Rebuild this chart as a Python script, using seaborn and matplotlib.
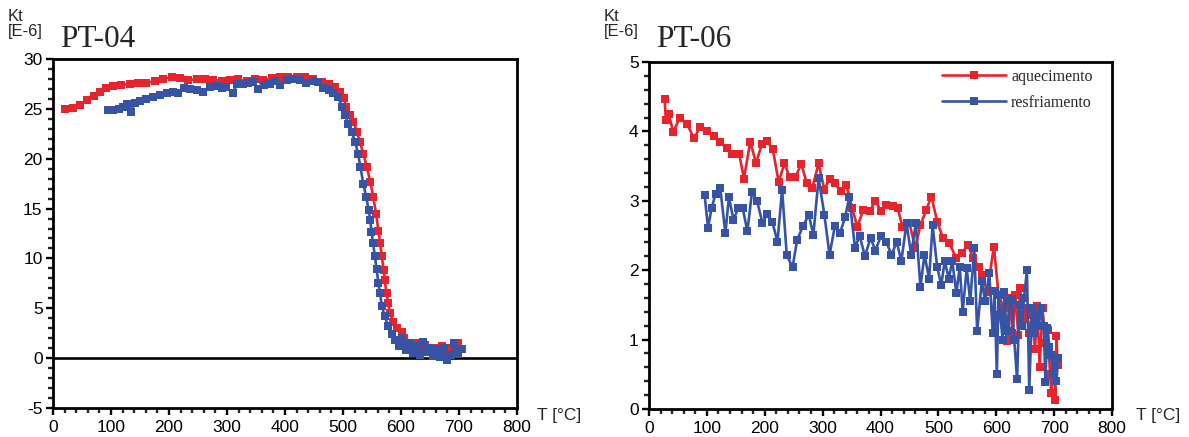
import matplotlib
matplotlib.use("Agg")
import matplotlib.pyplot as plt
from matplotlib.ticker import MultipleLocator
import seaborn as sns
import pandas as pd

# ---------------- data ----------------
# PT-04 heating (aquecimento)
pt04_heat_T = [21, 35, 46, 58, 70, 81, 92, 104, 118, 133, 147, 161, 176, 190, 205, 219, 233, 248,
               262, 276, 291, 305, 319, 334, 348, 362, 377, 391, 406, 420, 434, 449, 463, 475,
               486, 495, 501, 506, 512, 518, 524, 529, 535, 541, 547, 552, 557, 561, 564, 567,
               570, 572, 575, 578, 581, 587, 593, 601, 605, 612, 620, 628, 635, 642, 650, 657,
               664, 671, 678, 685, 692, 699, 705]
pt04_heat_K = [24.95, 25.05, 25.4, 25.9, 26.3, 26.7, 27.05, 27.3, 27.4, 27.5, 27.6, 27.6, 27.8,
               28.0, 28.2, 28.1, 27.9, 27.95, 27.95, 27.9, 27.8, 27.9, 27.95, 27.8, 27.95, 27.9,
               28.05, 28.2, 28.2, 28.2, 28.2, 27.95, 27.7, 27.5, 27.2, 26.7, 26.05, 25.2, 24.4,
               23.7, 22.7, 21.7, 20.5, 19.2, 17.7, 16.2, 14.5, 12.8, 11.5, 10.2, 8.8, 7.8, 6.5,
               5.5, 4.5, 3.6, 3.0, 2.6, 2.0, 1.5, 1.2, 1.5, 1.0, 1.3, 0.8, 1.0, 0.6, 1.2, 0.4,
               1.0, 0.8, 1.5, 0.9]

# PT-04 cooling (resfriamento)
pt04_cool_T = [95, 104, 113, 121, 128, 134, 141, 150, 161, 173, 184, 196, 207, 216, 225, 236, 248,
               259, 271, 282, 291, 299, 310, 317, 328, 337, 345, 354, 363, 374, 383, 391, 403,
               414, 426, 437, 449, 457, 466, 475, 483, 492, 498, 504, 509, 515, 521, 526, 530,
               535, 540, 544, 547, 549, 552, 555, 558, 561, 564, 567, 572, 578, 584, 590, 596,
               602, 608, 614, 620, 626, 632, 638, 644, 650, 656, 662, 668, 674, 680, 686, 692,
               698, 704]
pt04_cool_K = [24.85, 24.9, 25.0, 25.2, 25.5, 24.7, 25.6, 25.8, 26.0, 26.2, 26.4, 26.55, 26.7,
               26.55, 27.05, 26.95, 26.9, 26.7, 27.2, 27.3, 27.05, 27.2, 26.55, 27.5, 27.5, 27.6,
               27.7, 26.95, 27.4, 27.5, 27.8, 27.4, 27.9, 27.95, 27.9, 27.55, 27.8, 27.7, 27.05,
               26.9, 26.55, 26.2, 25.2, 24.4, 23.5, 22.7, 21.7, 20.5, 19.2, 17.5, 16.2, 14.9,
               13.9, 12.7, 11.5, 10.2, 8.9, 7.5, 6.5, 5.2, 4.2, 3.2, 2.4, 1.8, 1.2, 2.0, 0.8,
               1.5, 0.5, 1.2, 0.3, 1.6, 0.6, 1.0, 0.2, 0.9, 0.1, 1.0, -0.2, 0.3, 1.5, 0.4, 0.9]

# PT-06 heating (aquecimento)
pt06_heat_T = [27, 29, 34, 42, 53, 66, 78, 88, 101, 112, 122, 134, 144, 156, 164, 175, 185, 195,
               204, 214, 224, 234, 243, 253, 263, 273, 282, 293, 303, 312, 321, 331, 341, 351,
               360, 370, 382, 391, 401, 410, 421, 430, 438, 450, 460, 469, 479, 488, 498, 508,
               519, 531, 541, 551, 560, 570, 576, 584, 596, 604, 613, 618, 623, 628, 633, 638,
               641, 647, 652, 657, 662, 667, 671, 675, 680, 685, 689, 693, 695, 699, 702, 704,
               706]
pt06_heat_K = [4.47, 4.17, 4.25, 3.99, 4.19, 4.10, 3.90, 4.06, 4.01, 3.93, 3.85, 3.76, 3.67,
               3.67, 3.32, 3.85, 3.54, 3.82, 3.86, 3.74, 3.27, 3.54, 3.34, 3.34, 3.53, 3.25,
               3.18, 3.54, 3.16, 3.32, 3.25, 3.14, 3.23, 2.90, 2.62, 2.87, 2.86, 3.00, 2.85,
               2.94, 2.92, 2.89, 2.62, 2.68, 2.32, 2.65, 2.87, 3.06, 2.70, 2.46, 2.39, 2.17,
               2.25, 2.37, 2.17, 2.05, 1.93, 1.69, 2.34, 1.64, 1.45, 0.98, 1.60, 1.10, 1.64,
               1.07, 1.74, 1.30, 1.45, 1.10, 1.36, 0.86, 1.48, 0.61, 1.45, 0.95, 1.14, 0.50,
               0.23, 0.75, 0.13, 1.05, 0.64]

# PT-06 cooling (resfriamento)
pt06_cool_T = [96, 102, 108, 115, 123, 132, 138, 146, 154, 162, 170, 178, 187, 196, 204, 213,
               222, 230, 238, 248, 256, 266, 276, 284, 293, 303, 312, 321, 330, 339, 346, 356,
               364, 373, 383, 391, 401, 410, 419, 428, 436, 445, 453, 461, 469, 476, 484, 490,
               498, 505, 511, 518, 524, 531, 537, 542, 549, 555, 562, 567, 575, 581, 588, 594,
               597, 601, 604, 607, 611, 614, 617, 620, 624, 627, 631, 636, 640, 644, 648, 653,
               657, 662, 666, 669, 673, 678, 682, 685, 688, 692, 695, 698, 701, 704, 707]
pt06_cool_K = [3.09, 2.61, 2.89, 3.10, 3.19, 2.53, 3.05, 2.73, 2.89, 2.89, 2.56, 3.13, 2.99,
               2.68, 2.81, 2.70, 2.41, 3.16, 2.22, 2.04, 2.44, 2.63, 2.80, 2.51, 3.33, 2.80,
               2.22, 2.63, 2.53, 2.77, 3.05, 2.32, 2.50, 2.20, 2.47, 2.28, 2.50, 2.41, 2.22,
               2.41, 2.13, 2.68, 2.22, 2.68, 1.76, 2.22, 1.88, 2.65, 2.04, 1.79, 2.13, 1.88,
               2.13, 1.67, 2.05, 1.40, 2.03, 1.55, 2.32, 1.12, 1.84, 1.55, 1.96, 1.09, 1.70,
               0.50, 1.64, 1.35, 1.00, 1.69, 1.20, 1.12, 1.55, 1.59, 1.00, 0.43, 1.50, 1.20,
               1.60, 2.00, 0.28, 1.45, 1.10, 1.37, 1.20, 1.45, 1.20, 0.39, 1.16, 0.90, 0.78,
               0.50, 0.64, 0.40, 0.73]

panel_titles = ["PT-04", "PT-06"]
series_labels = ["aquecimento", "resfriamento"]
y_limits = [(-5, 30), (0, 5)]
y_major = [5, 1]
y_minor = [1, 0.2]

# ---------------- style ----------------
sns.set_theme(style="ticks")
plt.rcParams["font.family"] = ["Liberation Sans", "DejaVu Sans"]
plt.rcParams["axes.unicode_minus"] = False

RED = "#e8232b"
BLUE = "#3653a6"
W, H = 1189, 437

fig = plt.figure(figsize=(W / 100, H / 100), dpi=100)
ax_left = fig.add_axes([53 / W, 1 - 408 / H, (517 - 53) / W, (408 - 59) / H])
ax_right = fig.add_axes([649 / W, 1 - 409 / H, (1112 - 649) / W, (409 - 62) / H])
axes = [ax_left, ax_right]

datasets = [
    (pt04_heat_T, pt04_heat_K, pt04_cool_T, pt04_cool_K),
    (pt06_heat_T, pt06_heat_K, pt06_cool_T, pt06_cool_K),
]

for i, (ax, (hT, hK, cT, cK)) in enumerate(zip(axes, datasets)):
    df_h = pd.DataFrame({"T": hT, "K": hK})
    df_c = pd.DataFrame({"T": cT, "K": cK})
    sns.lineplot(data=df_h, x="T", y="K", ax=ax, color=RED, marker="s", markersize=5.3,
                 markeredgewidth=0, linewidth=1.9, sort=False, estimator=None,
                 label=series_labels[0])
    sns.lineplot(data=df_c, x="T", y="K", ax=ax, color=BLUE, marker="s", markersize=5.3,
                 markeredgewidth=0, linewidth=1.9, sort=False, estimator=None,
                 label=series_labels[1])
    ax.set_xlim(0, 800)
    ax.set_ylim(*y_limits[i])
    ax.xaxis.set_major_locator(MultipleLocator(100))
    ax.xaxis.set_minor_locator(MultipleLocator(20))
    ax.yaxis.set_major_locator(MultipleLocator(y_major[i]))
    ax.yaxis.set_minor_locator(MultipleLocator(y_minor[i]))
    ax.tick_params(which="major", direction="out", length=5, width=1.7, labelsize=12.5,
                   colors="black", pad=2.5)
    ax.tick_params(which="minor", direction="out", length=3.8, width=1.7)
    ax.tick_params(axis="x", which="major", pad=3.5)
    for s in ax.spines.values():
        s.set_linewidth(2.0)
        s.set_color("black")
        s.set_visible(True)
    ax.set_xlabel("")
    ax.set_ylabel("")
    ax.set_facecolor("white")

ax_left.axhline(0, color="black", linewidth=1.9, zorder=1)
ax_left.get_legend().remove()
leg = ax_right.legend(loc="upper right", bbox_to_anchor=(0.972, 0.998), frameon=False,
                      prop={"family": "Liberation Serif", "size": 11.5}, handlelength=4.0,
                      labelspacing=0.62, handletextpad=0.3, borderaxespad=0)

# annotations (units, panel titles, axis label)
for x0, title in zip([8, 604], panel_titles):
    fig.text(x0 / W, 1 - 21 / H, "Kt", fontsize=12, ha="left", va="baseline")
    fig.text(x0 / W, 1 - 36 / H, "[E-6]", fontsize=12, ha="left", va="baseline")
    fig.text((x0 + 52) / W, 1 - 47 / H, title, fontsize=22.5, ha="left", va="baseline",
             family="Liberation Serif")

for x0 in [537, 1136]:
    fig.text(x0 / W, 1 - 420 / H, "T [°C]", fontsize=12.5, ha="left", va="baseline")

fig.savefig("out.png", dpi=100, facecolor="white")
